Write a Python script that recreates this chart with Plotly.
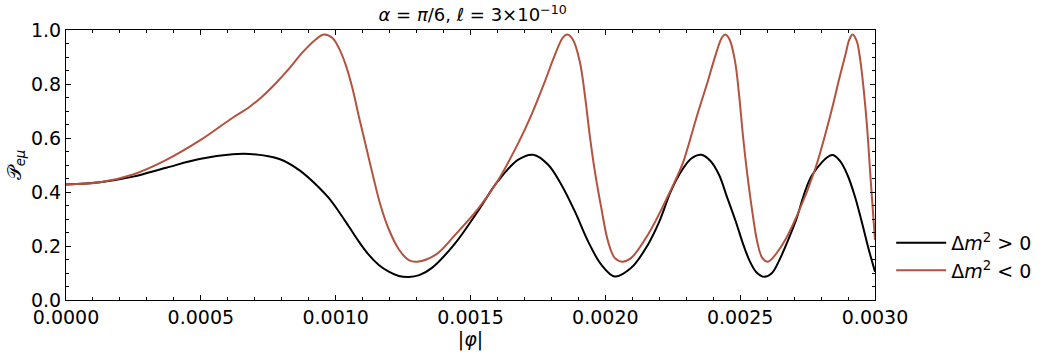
import plotly.graph_objects as go

# values
phi_pos = [0.0, 0.000126, 0.000249, 0.000372, 0.000495, 0.000618, 0.00068, 0.000791,
           0.000865, 0.000938, 0.000975, 0.001012, 0.001049, 0.001086, 0.001123, 0.00116,
           0.001197, 0.001234, 0.001271, 0.00131, 0.001357, 0.001443, 0.00153, 0.0016,
           0.001677, 0.001733, 0.001788, 0.001837, 0.001887, 0.001936, 0.001985, 0.002035,
           0.002096, 0.002158, 0.0022, 0.002244, 0.002287, 0.00232, 0.002355, 0.00239,
           0.002422, 0.00245, 0.002484, 0.00251, 0.002535, 0.00256, 0.002589, 0.002618,
           0.002644, 0.002675, 0.002705, 0.002767, 0.002841, 0.00287, 0.002898, 0.002925,
           0.002952, 0.002976, 0.003]
prob_pos = [0.428, 0.436, 0.457, 0.490, 0.522, 0.540, 0.541, 0.522,
            0.481, 0.417, 0.377, 0.327, 0.272, 0.216, 0.167, 0.130,
            0.105, 0.089, 0.085, 0.092, 0.119, 0.210, 0.333, 0.438,
            0.520, 0.538, 0.501, 0.427, 0.328, 0.217, 0.131, 0.087,
            0.119, 0.205, 0.290, 0.405, 0.485, 0.525, 0.538, 0.515,
            0.463, 0.385, 0.290, 0.210, 0.145, 0.103, 0.086, 0.100,
            0.145, 0.215, 0.290, 0.463, 0.537, 0.515, 0.463, 0.385,
            0.285, 0.190, 0.105]

phi_neg = [0.0, 0.000126, 0.000249, 0.000372, 0.000495, 0.000618, 0.00068, 0.000729,
           0.000778, 0.000828, 0.000877, 0.000926, 0.000957, 0.000988, 0.001012, 0.001037,
           0.001062, 0.001086, 0.001111, 0.001142, 0.001166, 0.001197, 0.001234, 0.001271,
           0.001302, 0.00137, 0.001443, 0.00153, 0.0016, 0.001677, 0.001726, 0.001776,
           0.001813, 0.001843, 0.001859, 0.00188, 0.001905, 0.001924, 0.001942, 0.001961,
           0.001985, 0.00201, 0.002035, 0.002062, 0.002096, 0.002158, 0.00222, 0.002287,
           0.002305, 0.002341, 0.00238, 0.002409, 0.002433, 0.002445, 0.002461, 0.002481,
           0.002496, 0.00251, 0.002525, 0.002543, 0.002563, 0.002582, 0.002603, 0.002656,
           0.002712, 0.002779, 0.002841, 0.002865, 0.00289, 0.002905, 0.002917, 0.002932,
           0.002946, 0.002958, 0.00297, 0.002985, 0.003]
prob_neg = [0.428, 0.436, 0.465, 0.519, 0.590, 0.675, 0.715, 0.755,
            0.803, 0.858, 0.917, 0.965, 0.983, 0.970, 0.933, 0.872,
            0.785, 0.680, 0.575, 0.445, 0.352, 0.262, 0.188, 0.148,
            0.142, 0.167, 0.241, 0.340, 0.440, 0.581, 0.686, 0.810,
            0.908, 0.973, 0.983, 0.964, 0.884, 0.760, 0.612, 0.477,
            0.341, 0.217, 0.156, 0.142, 0.156, 0.242, 0.360, 0.506,
            0.562, 0.686, 0.810, 0.908, 0.973, 0.983, 0.964, 0.884,
            0.760, 0.612, 0.477, 0.341, 0.217, 0.156, 0.142, 0.204,
            0.315, 0.488, 0.710, 0.810, 0.907, 0.965, 0.983, 0.960,
            0.884, 0.780, 0.648, 0.430, 0.222]

font = 'DejaVu Sans'

fig = go.Figure()
fig.add_trace(go.Scatter(x=phi_pos, y=prob_pos, mode='lines', name='Δ<i>m</i><sup>2</sup> > 0',
                         line=dict(color='#000000', width=2, shape='spline', smoothing=1)))
fig.add_trace(go.Scatter(x=phi_neg, y=prob_neg, mode='lines', name='Δ<i>m</i><sup>2</sup> < 0',
                         line=dict(color='#b5523e', width=2, shape='spline', smoothing=1)))

axis_style = dict(showline=True, linecolor='black', linewidth=1, mirror='allticks',
                  ticks='inside', ticklen=5, tickcolor='black', showgrid=False, zeroline=False,
                  tickfont=dict(family=font, size=19, color='black'))

fig.update_xaxes(range=[0, 0.003], tick0=0, dtick=0.0005, tickformat='.4f',
                 minor=dict(ticks='inside', ticklen=3, dtick=0.0001, tickcolor='black'),
                 title=dict(text='|<i>φ</i>|', font=dict(family=font, size=19, color='black'), standoff=2),
                 **axis_style)
fig.update_yaxes(range=[0, 1], tick0=0, dtick=0.2, tickformat='.1f',
                 minor=dict(ticks='inside', ticklen=3, dtick=0.05, tickcolor='black'),
                 title=dict(text='𝒫<sub><i>eμ</i></sub>', font=dict(family=font, size=19, color='black'), standoff=4),
                 **axis_style)

fig.update_layout(
    width=1049, height=355,
    margin=dict(l=66, r=170, t=30, b=55),
    plot_bgcolor='white', paper_bgcolor='white',
    title=dict(text='<i>α</i> = <i>π</i>/6, <i>ℓ</i> = 3×10<sup>−10</sup>', x=0.4505, xanchor='center',
               y=0.958, yanchor='middle', font=dict(family=font, size=18, color='black')),
    legend=dict(x=1.02, y=0.16, xanchor='left', yanchor='middle', bgcolor='rgba(0,0,0,0)',
                itemwidth=50, font=dict(family=font, size=19, color='black'), tracegroupgap=0),
    showlegend=True,
)

# drop the page's default body margin so the figure sits at the window corner
fig.write_html('out.html', config={'displayModeBar': False},
               post_script="document.body.style.margin='0';")
